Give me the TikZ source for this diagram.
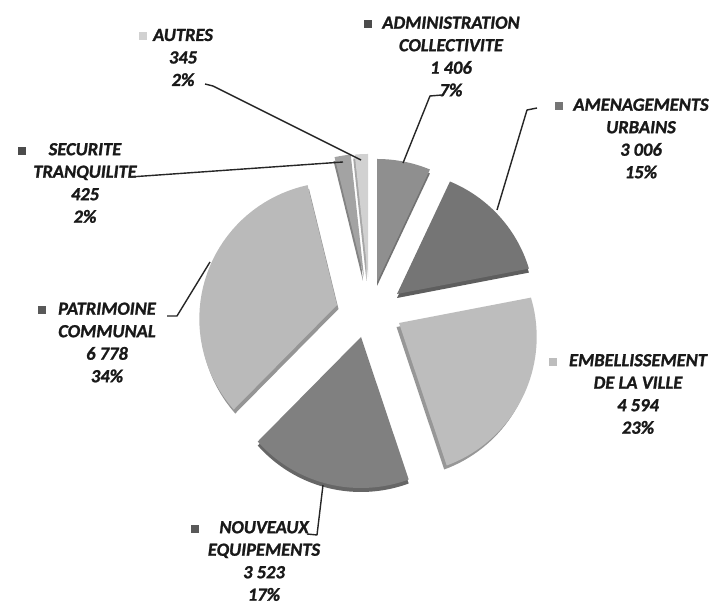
\documentclass[tikz,border=0pt]{standalone}
\usepackage{fontspec}
\setmainfont{Carlito}[BoldItalicFeatures={FakeBold=1.2}]
\usetikzlibrary{calc}
\definecolor{admgray}{gray}{0.56}
\definecolor{amegray}{gray}{0.46}
\definecolor{embgray}{gray}{0.74}
\definecolor{nougray}{gray}{0.50}
\definecolor{patgray}{gray}{0.73}
\definecolor{secgray}{gray}{0.64}
\definecolor{autgray}{gray}{0.82}
\definecolor{leadgray}{gray}{0.15}
\newcommand{\keymark}[2]{\llap{\textcolor{#1}{\rule[0.5pt]{8pt}{8pt}}\hspace{#2pt}}}
\tikzset{
  lbl/.style={align=center, inner sep=0pt, text=black!90,
    font=\fontsize{18.5}{22.5}\selectfont\bfseries\itshape},
  leader/.style={draw=leadgray, line width=1.4pt, line join=round},
}

\begin{document}
\begin{tikzpicture}[x=1pt, y=1pt]
    \useasboundingbox (0,0) rectangle (712,607);
    \fill[white] (0,0) rectangle (712,607);
    % exploded slice tips
    \coordinate (admtip) at (377,325);
    \coordinate (ametip) at (397,313);
    \coordinate (embtip) at (399,284);
    \coordinate (noutip) at (361,270);
    \coordinate (pattip) at (337,302);
    \coordinate (sectip) at (364,330);
    \coordinate (auttip) at (368,330);
    % side faces first
    \foreach \tip/\a/\b/\col/\dx in {admtip/64.79/90/admgray/0, ametip/10.89/64.79/amegray/0,
        embtip/-71.48/10.89/embgray/-2.5, noutip/-134.65/-71.48/nougray/0,
        pattip/103.81/225.35/patgray/1.5, sectip/96.19/103.81/secgray/-1, auttip/90/96.19/autgray/-1.5}
        \fill[\col!80!black, shift={($(\tip)+(\dx,-4)$)}] (0,0)
            -- plot[domain=\a:\b, samples=40] ({(137-14*sin(\x))*cos(\x)}, {(137-14*sin(\x))*sin(\x)}) -- cycle;
    % top faces
    \foreach \tip/\a/\b/\col in {admtip/64.79/90/admgray, ametip/10.89/64.79/amegray,
        embtip/-71.48/10.89/embgray, noutip/-134.65/-71.48/nougray,
        pattip/103.81/225.35/patgray, sectip/96.19/103.81/secgray, auttip/90/96.19/autgray}
        \fill[\col, shift={(\tip)}] (0,0)
            -- plot[domain=\a:\b, samples=40] ({(137-14*sin(\x))*cos(\x)}, {(137-14*sin(\x))*sin(\x)}) -- cycle;

    % data labels
    \node[lbl] (autres) at (183,549.5) {\keymark{autgray}{6}AUTRES\\345\\2\%};
    \node[lbl] (secur) at (85,424) {\keymark{black!70}{23}SECURITE\\TRANQUILITE\\425\\2\%};
    \node[lbl] (admin) at (451,550.5) {\keymark{black!70}{10}ADMINISTRATION\\COLLECTIVITE\\1 406\\7\%};
    \node[lbl] (amen) at (641,468.5) {\keymark{amegray}{10}AMENAGEMENTS\\URBAINS\\3 006\\15\%};
    \node[lbl] (embel) at (638,213) {\keymark{embgray}{12}EMBELLISSEMENT\\DE LA VILLE\\4 594\\23\%};
    \node[lbl] (patri) at (107,264.5) {\keymark{black!65}{12}PATRIMOINE\\COMMUNAL\\6 778\\34\%};
    \node[lbl] (nouv) at (264,46) {\keymark{black!65}{20}NOUVEAUX\\EQUIPEMENTS\\3 523\\17\%};

    % leader lines
    \coordinate (autlead) at (205,523);
    \coordinate (autrim) at (361,447);
    \coordinate (seclead) at (130,430);
    \coordinate (secrim) at (343,445);
    \coordinate (admlead) at (442,512);
    \coordinate (admrim) at (403,444);
    \coordinate (amelead) at (537,499);
    \coordinate (amerim) at (497,397);
    \coordinate (patlead) at (167,291);
    \coordinate (patrim) at (210,345);
    \coordinate (noulead) at (307,73);
    \coordinate (nourim) at (323,122);
    \draw[leader] (autlead) -- +(8,-2) -- (autrim);
    \draw[leader] (seclead) -- (secrim);
    \draw[leader] (admlead) -- +(-12,-1) -- (admrim);
    \draw[leader] (amelead) -- +(-10,-2) -- (amerim);
    \draw[leader] (patlead) -- +(10,0) -- (patrim);
    \draw[leader] (noulead) -- +(10,-1) -- (nourim);
\end{tikzpicture}
\end{document}
